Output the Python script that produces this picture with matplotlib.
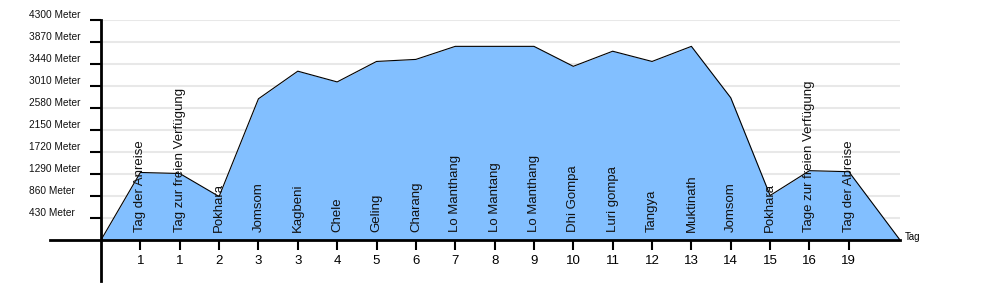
import numpy as np
import matplotlib.pyplot as plt
from matplotlib.transforms import blended_transform_factory

plt.rcParams['font.family'] = ['Liberation Sans', 'DejaVu Sans']

# Höhenprofil der Reise
days = ['1', '1', '2', '3', '3', '4', '5', '6', '7', '8', '9', '10',
        '11', '12', '13', '14', '15', '16', '19']
places = ['Tag der Anreise', 'Tag zur freien Verfügung', 'Pokhara', 'Jomsom',
          'Kagbeni', 'Chele', 'Geling', 'Charang', 'Lo Manthang', 'Lo Mantang',
          'Lo Manthang', 'Dhi Gompa', 'Luri gompa', 'Tangya', 'Muktinath',
          'Jomsom', 'Pokhara', 'Tage zur freien Verfügung', 'Tag der Abreise']
elev = [1320, 1300, 850, 2760, 3300, 3090, 3490, 3530, 3785, 3785,
        3785, 3395, 3690, 3490, 3785, 2780, 870, 1355, 1335]
yticks = [430, 860, 1290, 1720, 2150, 2580, 3010, 3440, 3870, 4300]

n = len(places)
x_end = n + 1.3
xs = np.concatenate([[0], np.arange(1, n + 1), [x_end]])
ys = np.concatenate([[0], elev, [0]])

fig = plt.figure(figsize=(10, 3), dpi=100)
ax = fig.add_axes([0.101, 0.2, 0.799, 0.7333])
ax.set_xlim(0, x_end)
ax.set_ylim(0, 4300)

ax.fill_between(xs, ys, 0, color='#82bfff', zorder=2, lw=0)
ax.plot(xs, ys, color='black', lw=0.8, zorder=3)

for i, p in enumerate(places):
    ax.text(i + 1, 150, p, rotation=90, ha='center', va='bottom',
            fontsize=9.5, color='#111111', zorder=4)

# Achsen
for s in ax.spines.values():
    s.set_visible(False)
ax.plot([-1.3, x_end], [0, 0], color='black', lw=2, clip_on=False, zorder=5)
ax.plot([0, 0], [-800, 4300], color='black', lw=2, clip_on=False, zorder=5)

ax.set_yticks(yticks)
ax.set_yticklabels([])
ax.tick_params(axis='y', length=8, width=1.5, color='black')
ax.yaxis.grid(True, color='#e8e8e8', lw=1.5, zorder=0)
ax.set_axisbelow(True)

ax.set_xticks(np.arange(1, n + 1))
ax.set_xticklabels(days, fontsize=9.5)
ax.tick_params(axis='x', length=7, width=1.5, color='black', pad=4)

tr = blended_transform_factory(fig.transFigure, ax.transData)
for v in yticks:
    ax.text(0.029, v + 90, f'{v} Meter', transform=tr, fontsize=7.3,
            ha='left', va='center', color='#111111')

ax.text(x_end + 0.12, 60, 'Tag', fontsize=7, ha='left', va='center')

fig.savefig('out.png', dpi=100)
